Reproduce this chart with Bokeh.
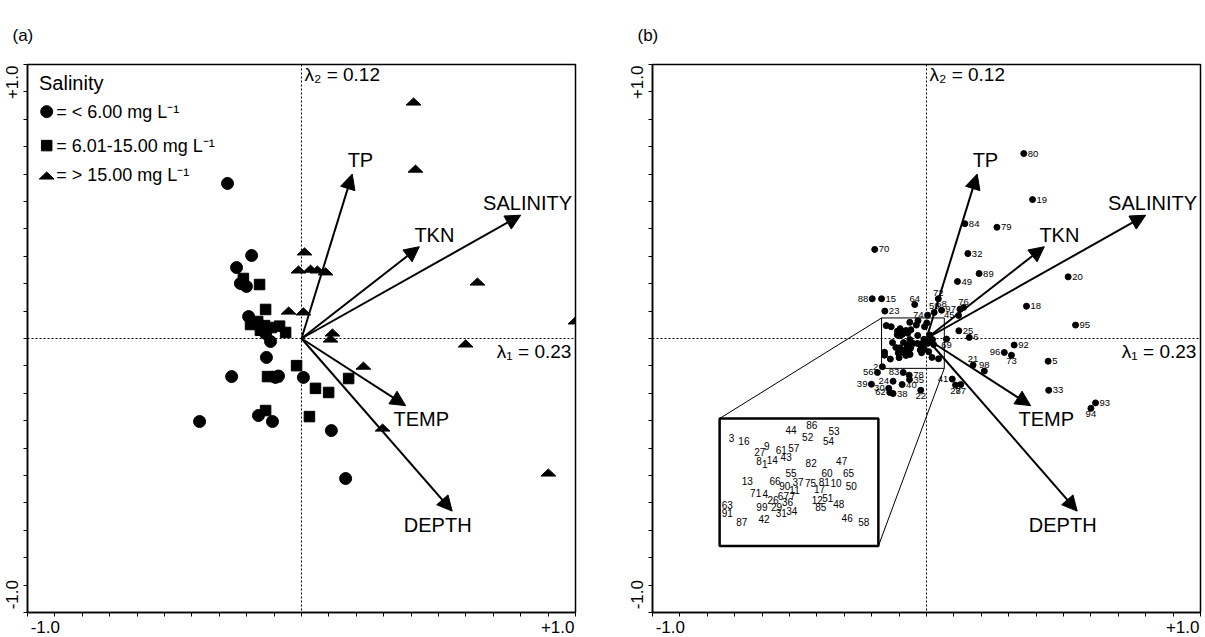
from bokeh.plotting import figure
from bokeh.models import (Range1d, Span, Label, Arrow, NormalHead, FixedTicker,
                          ColumnDataSource, LinearAxis, CustomLabelingPolicy)
from bokeh.layouts import row
from bokeh.embed import file_html
from bokeh.resources import INLINE
from bokeh.core.properties import value

FONT = "Liberation Sans"

# ---------------- shared: environmental vectors ----------------
ENV_NAMES = ["TP", "TKN", "SALINITY", "TEMP", "DEPTH"]
ENV_X = [0.185, 0.43, 0.80, 0.38, 0.55]
ENV_Y = [0.60, 0.335, 0.45, -0.245, -0.63]
ENV_LABEL_X = [0.215, 0.485, 0.825, 0.437, 0.497]
ENV_LABEL_Y = [0.652, 0.378, 0.496, -0.292, -0.68]

LAMBDA1 = "λ₁ = 0.23"
LAMBDA2 = "λ₂ = 0.12"
AXIS_TICK_LABELS = ["-1.0", "+1.0"]
TICK_LABEL_POS = [-0.935, 0.935]
TICKS = [-1.0, -0.9, -0.8, -0.7, -0.6, -0.5, -0.4, -0.3, -0.2, -0.1, 0.0,
         0.1, 0.2, 0.3, 0.4, 0.5, 0.6, 0.7, 0.8, 0.9, 1.0]

# ---------------- panel (a): samples by salinity class ----------------
LEGEND_TITLE = "Salinity"
LEGEND_TEXT = ["= < 6.00 mg L⁻¹", "= 6.01-15.00 mg L⁻¹", "= > 15.00 mg L⁻¹"]

A_CIRC_X = [-0.270, -0.182, -0.237, -0.223, -0.201, -0.193, -0.131, -0.113, -0.128,
            -0.255, -0.095, -0.084, 0.007, -0.372, -0.157, -0.106, 0.109, 0.161]
A_CIRC_Y = [0.566, 0.303, 0.259, 0.201, 0.190, 0.080, 0.018, -0.011, -0.069,
            -0.139, -0.142, -0.137, -0.142, -0.303, -0.281, -0.303, -0.336, -0.511]

A_SQ_X = [-0.212, -0.153, -0.131, -0.186, -0.160, -0.135, -0.110, -0.080, -0.058,
          -0.150, -0.018, -0.124, -0.091, 0.051, 0.099, 0.172, -0.131, 0.029]
A_SQ_Y = [0.219, 0.197, 0.106, 0.051, 0.062, 0.047, 0.040, 0.045, 0.022,
          0.030, -0.099, -0.139, -0.139, -0.182, -0.197, -0.146, -0.263, -0.285]

A_TRI_X = [0.409, 0.416, 0.011, -0.011, 0.033, 0.058, 0.088, -0.047, 0.007,
           0.113, 0.106, 0.642, 0.599, 1.0, 0.226, 0.296, 0.901]
A_TRI_Y = [0.865, 0.620, 0.318, 0.252, 0.255, 0.252, 0.245, 0.102, 0.099,
           0.022, 0.0, 0.208, -0.018, 0.066, -0.099, -0.325, -0.489]

# ---------------- panel (b): numbered sample scores ----------------
B_LABELS = ["80", "19", "84", "79", "70", "32", "89", "49", "20", "88", "15", "64", "23",
            "18", "72", "59", "68", "97", "76", "45", "74", "25", "6", "69", "92", "96",
            "73", "21", "98", "95", "5", "33", "93", "94", "2", "56", "83", "78", "24",
            "35", "39", "30", "40", "62", "38", "22", "41", "28", "77"]
B_X = [0.355, 0.387, 0.140, 0.257, -0.189, 0.151, 0.192, 0.113, 0.517, -0.198, -0.164,
       -0.043, -0.152, 0.365, 0.043, 0.028, 0.055, 0.122, 0.135, 0.117, 0.004, 0.118,
       0.156, 0.073, 0.320, 0.284, 0.310, 0.170, 0.211, 0.544, 0.444, 0.446, 0.617,
       0.600, -0.161, -0.179, -0.085, -0.063, -0.122, -0.062, -0.201, -0.138, -0.089,
       -0.134, -0.122, -0.021, 0.094, 0.106, 0.125]
B_Y = [0.675, 0.507, 0.419, 0.406, 0.325, 0.310, 0.237, 0.208, 0.225, 0.145, 0.145,
       0.124, 0.100, 0.118, 0.145, 0.095, 0.103, 0.107, 0.113, 0.084, 0.085, 0.028,
       0.004, -0.002, -0.024, -0.051, -0.061, -0.097, -0.119, 0.049, -0.083, -0.189,
       -0.235, -0.255, -0.103, -0.124, -0.124, -0.134, -0.156, -0.150, -0.167, -0.182,
       -0.168, -0.197, -0.201, -0.189, -0.148, -0.170, -0.168]
B_POS = ["r", "r", "r", "r", "r", "r", "r", "r", "r", "l", "r", "a", "r",
         "r", "a", "a", "a", "l", "a", "l", "l", "r", "r", "b", "r", "l",
         "b", "a", "a", "r", "r", "r", "r", "b", "l", "l", "l", "r", "l",
         "r", "l", "l", "r", "l", "r", "b", "l", "b", "b"]

# samples inside the zoomed rectangle (shown magnified in the inset)
IN_LABELS = ["44", "86", "53", "52", "54", "3", "16", "9", "27", "61", "57", "43", "8",
             "1", "14", "82", "47", "55", "60", "65", "13", "66", "90", "37", "75", "81",
             "10", "50", "11", "17", "71", "4", "26", "67", "7", "12", "51", "48", "36",
             "29", "85", "63", "91", "99", "34", "31", "42", "46", "58", "87"]
IN_X = [-0.061, -0.031, 0.001, -0.037, -0.007, -0.147, -0.129, -0.096, -0.106, -0.075,
        -0.057, -0.068, -0.107, -0.099, -0.088, -0.032, 0.012, -0.061, -0.009, 0.022,
        -0.124, -0.084, -0.070, -0.051, -0.033, -0.013, 0.004, 0.026, -0.056, -0.020,
        -0.112, -0.098, -0.087, -0.072, -0.059, -0.023, -0.008, 0.008, -0.066, -0.082,
        -0.018, -0.153, -0.153, -0.103, -0.060, -0.075, -0.100, 0.020, 0.044, -0.132]
IN_Y = [0.059, 0.065, 0.057, 0.049, 0.043, 0.047, 0.043, 0.036, 0.027, 0.029,
        0.032, 0.019, 0.014, 0.010, 0.015, 0.011, 0.013, -0.004, -0.003, -0.004,
        -0.015, -0.015, -0.023, -0.017, -0.018, -0.016, -0.018, -0.022, -0.028, -0.027,
        -0.033, -0.034, -0.042, -0.037, -0.037, -0.042, -0.039, -0.048, -0.046, -0.052,
        -0.052, -0.050, -0.061, -0.053, -0.058, -0.062, -0.070, -0.069, -0.074, -0.075]

ZOOM_X0, ZOOM_X1, ZOOM_Y0, ZOOM_Y1 = -0.164, 0.065, -0.109, 0.075
INSET_LEFT, INSET_TOP, INSET_K = -0.755, -0.292, 2.53


def style_tick_axis(ax):
    # tick marks only: every tick label is dropped by the labeling policy
    ax.ticker = FixedTicker(ticks=TICKS)
    ax.major_label_policy = CustomLabelingPolicy(code="for (const i of indices) indices.unset(i)")
    ax.major_tick_out = 4
    ax.major_tick_in = 0
    ax.major_tick_line_color = "black"
    ax.major_tick_line_width = 1
    ax.minor_tick_out = 0
    ax.minor_tick_in = 0
    ax.axis_line_color = "black"
    ax.axis_line_width = 1.5
    ax.major_label_text_font_size = "1px"
    ax.major_label_standoff = 0


def label_axis():
    ax = LinearAxis(ticker=FixedTicker(ticks=TICK_LABEL_POS))
    ax.major_label_overrides = dict(zip(TICK_LABEL_POS, AXIS_TICK_LABELS))
    ax.major_tick_out = 0
    ax.major_tick_in = 0
    ax.minor_tick_out = 0
    ax.minor_tick_in = 0
    ax.axis_line_color = None
    ax.major_label_text_font = FONT
    ax.major_label_text_font_size = "17px"
    ax.major_label_text_color = "black"
    ax.major_label_standoff = 0
    return ax


def base_fig(width, left, right, tag):
    p = figure(width=width, height=637, x_range=Range1d(-1, 1), y_range=Range1d(-1, 1),
               output_backend="svg", toolbar_location=None,
               min_border_left=left, min_border_right=right,
               min_border_top=64, min_border_bottom=25)
    p.title.text = tag
    p.title.text_font = FONT
    p.title.text_font_size = "17px"
    p.title.text_font_style = "normal"
    p.title.text_color = "black"
    p.title.align = "left"
    p.title.offset = -15
    p.title.standoff = 40
    p.xgrid.visible = False
    p.ygrid.visible = False
    p.outline_line_color = "black"
    p.outline_line_width = 1.5
    p.outline_line_alpha = 1.0
    style_tick_axis(p.xaxis[0])
    style_tick_axis(p.yaxis[0])
    p.add_layout(label_axis(), "below")
    yl = label_axis()
    yl.major_label_orientation = "vertical"
    p.add_layout(yl, "left")

    p.add_layout(Span(location=0, dimension="height", line_dash="2 2",
                      line_color="black", line_width=1))
    p.add_layout(Span(location=0, dimension="width", line_dash="2 2",
                      line_color="black", line_width=1))
    p.add_layout(Label(x=0, y=0.962, text=LAMBDA2, x_offset=3, text_font=FONT,
                       text_color="black", text_font_size="19px",
                       text_baseline="middle", text_align="left"))
    p.add_layout(Label(x=0.985, y=-0.046, text=LAMBDA1, text_font=FONT,
                       text_color="black", text_font_size="19px",
                       text_baseline="middle", text_align="right"))
    return p


def add_vectors(p):
    src = ColumnDataSource(dict(x0=[0.0] * len(ENV_X), y0=[0.0] * len(ENV_Y), x1=ENV_X, y1=ENV_Y))
    p.add_layout(Arrow(source=src, x_start="x0", y_start="y0", x_end="x1", y_end="y1",
                       line_width=2, line_color="black",
                       end=NormalHead(size=15, fill_color="black", line_color="black")))
    p.text(x=ENV_LABEL_X, y=ENV_LABEL_Y, text=ENV_NAMES, text_font=value(FONT),
           text_font_size="20px", text_align="center", text_baseline="middle",
           text_color="black")


def tri_xy(xs, ys, hw=0.027, hh=0.013):
    return ([[x - hw, x, x + hw] for x in xs], [[y - hh, y + hh, y - hh] for y in ys])


# ---------------- panel (a) ----------------
pa = base_fig(602, 27, 27, "(a)")
pa.scatter(A_CIRC_X, A_CIRC_Y, marker="circle", size=12, color="black")
pa.scatter(A_SQ_X, A_SQ_Y, marker="square", size=10.5, color="black")
txs, tys = tri_xy(A_TRI_X, A_TRI_Y)
pa.patches(txs, tys, color="black")
add_vectors(pa)

# legend
LEG_MX = -0.93
LEG_TX = -0.895
LEG_Y = [0.828, 0.704, 0.595]
pa.add_layout(Label(x=-0.958, y=0.931, text=LEGEND_TITLE, text_font=FONT, text_color="black",
                    text_font_size="20px", text_baseline="middle", text_align="left"))
pa.scatter([LEG_MX], [LEG_Y[0]], marker="circle", size=12, color="black")
pa.scatter([LEG_MX], [LEG_Y[1]], marker="square", size=10.5, color="black")
lx, ly = tri_xy([LEG_MX], [LEG_Y[2]])
pa.patches(lx, ly, color="black")
pa.text(x=[LEG_TX] * 3, y=LEG_Y, text=LEGEND_TEXT, text_font=value(FONT),
        text_font_size="18px", text_align="left", text_baseline="middle", text_color="black")

# ---------------- panel (b) ----------------
pb = base_fig(603, 50, 5, "(b)")
pb.scatter(B_X, B_Y, marker="circle", size=6, color="black")
pb.scatter(IN_X, IN_Y, marker="circle", size=6, color="black")

OFF = {"r": (4, 0, "left", "middle"), "l": (-4, 0, "right", "middle"),
       "a": (0, -3, "center", "bottom"), "b": (0, 3, "center", "top")}
bsrc = ColumnDataSource(dict(
    x=B_X, y=B_Y, t=B_LABELS,
    xo=[OFF[c][0] for c in B_POS], yo=[OFF[c][1] for c in B_POS],
    al=[OFF[c][2] for c in B_POS], bl=[OFF[c][3] for c in B_POS]))
pb.text(x="x", y="y", text="t", x_offset="xo", y_offset="yo", text_align="al",
        text_baseline="bl", source=bsrc, text_font=value(FONT), text_font_size="9.5px",
        text_color="black")

# zoom rectangle, inset and connectors
INSET_RIGHT = INSET_LEFT + (ZOOM_X1 - ZOOM_X0) * INSET_K
INSET_BOTTOM = INSET_TOP - (ZOOM_Y1 - ZOOM_Y0) * INSET_K
pb.quad(left=[ZOOM_X0], right=[ZOOM_X1], bottom=[ZOOM_Y0], top=[ZOOM_Y1],
        fill_alpha=0, line_color="black", line_width=1)
pb.quad(left=[INSET_LEFT], right=[INSET_RIGHT], bottom=[INSET_BOTTOM], top=[INSET_TOP],
        fill_alpha=0, line_color="black", line_width=2.5)
pb.segment(x0=[ZOOM_X0, ZOOM_X1], y0=[ZOOM_Y1, ZOOM_Y0],
           x1=[INSET_LEFT, INSET_RIGHT], y1=[INSET_TOP, INSET_BOTTOM],
           line_color="black", line_width=1)
ins_x = [INSET_LEFT + (x - ZOOM_X0) * INSET_K for x in IN_X]
ins_y = [INSET_TOP - (ZOOM_Y1 - y) * INSET_K for y in IN_Y]
pb.text(x=ins_x, y=ins_y, text=IN_LABELS, text_font=value(FONT), text_font_size="10px",
        text_align="center", text_baseline="middle", text_color="black")

add_vectors(pb)

layout = row(pa, pb)
open("out.html", "w").write(file_html(layout, INLINE))
